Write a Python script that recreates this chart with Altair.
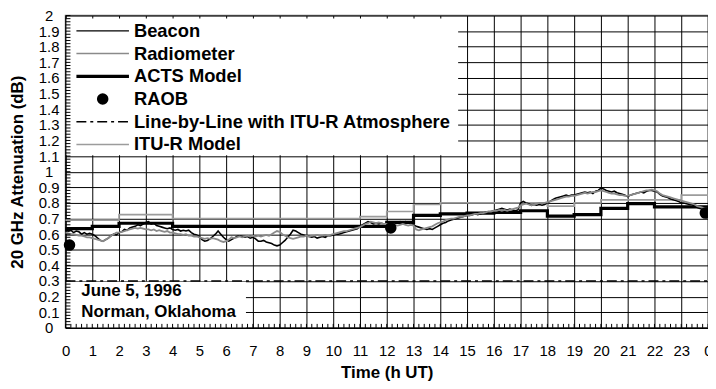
import altair as alt
import pandas as pd

# ---------------- data ----------------
HOURS = list(range(25))
ACTS_MODEL = [0.635, 0.65, 0.67, 0.67, 0.65, 0.65, 0.65, 0.65, 0.65, 0.65, 0.65, 0.65,
              0.675, 0.72, 0.73, 0.735, 0.74, 0.75, 0.715, 0.725, 0.765, 0.795, 0.775, 0.775, 0.775]
ITU_MODEL = [0.69, 0.69, 0.725, 0.725, 0.70, 0.70, 0.70, 0.70, 0.70, 0.70, 0.70, 0.712,
             0.745, 0.79, 0.80, 0.80, 0.80, 0.80, 0.78, 0.80, 0.82, 0.82, 0.82, 0.85, 0.85]

FINE_TIME = [i / 10 for i in range(241)]
BEACON = [
    0.63, 0.62, 0.625, 0.61, 0.62, 0.615, 0.60, 0.61, 0.60, 0.605,
    0.60, 0.59, 0.575, 0.56, 0.555, 0.565, 0.575, 0.59, 0.60, 0.595,
    0.61, 0.615, 0.63, 0.625, 0.64, 0.645, 0.65, 0.66, 0.655, 0.665,
    0.675, 0.68, 0.665, 0.67, 0.655, 0.65, 0.645, 0.64, 0.635, 0.64,
    0.63, 0.625, 0.63, 0.62, 0.625, 0.62, 0.625, 0.61, 0.60, 0.595,
    0.585, 0.565, 0.555, 0.56, 0.57, 0.585, 0.60, 0.62, 0.60, 0.58,
    0.565, 0.555, 0.565, 0.575, 0.585, 0.59, 0.585, 0.58, 0.585, 0.575,
    0.58, 0.57, 0.555, 0.555, 0.56, 0.55, 0.545, 0.54, 0.53, 0.525,
    0.53, 0.545, 0.56, 0.58, 0.60, 0.625, 0.62, 0.61, 0.60, 0.595,
    0.59, 0.585, 0.58, 0.585, 0.575, 0.58, 0.585, 0.58, 0.59, 0.59,
    0.595, 0.60, 0.60, 0.605, 0.61, 0.615, 0.62, 0.625, 0.63, 0.635,
    0.65, 0.66, 0.67, 0.68, 0.675, 0.665, 0.67, 0.665, 0.67, 0.665,
    0.67, 0.665, 0.67, 0.675, 0.67, 0.68, 0.675, 0.68, 0.675, 0.67,
    0.66, 0.65, 0.645, 0.64, 0.635, 0.63, 0.635, 0.63, 0.64, 0.65,
    0.66, 0.67, 0.675, 0.685, 0.69, 0.695, 0.70, 0.705, 0.71, 0.715,
    0.72, 0.72, 0.725, 0.73, 0.725, 0.73, 0.735, 0.74, 0.74, 0.745,
    0.75, 0.755, 0.76, 0.765, 0.76, 0.755, 0.76, 0.755, 0.75, 0.755,
    0.80, 0.81, 0.80, 0.795, 0.785, 0.79, 0.785, 0.79, 0.785, 0.79,
    0.80, 0.81, 0.82, 0.83, 0.835, 0.84, 0.845, 0.85, 0.845, 0.85,
    0.85, 0.855, 0.86, 0.865, 0.87, 0.865, 0.87, 0.86, 0.875, 0.88,
    0.895, 0.89, 0.88, 0.875, 0.87, 0.875, 0.865, 0.86, 0.855, 0.85,
    0.84, 0.85, 0.855, 0.86, 0.865, 0.87, 0.865, 0.875, 0.88, 0.88,
    0.875, 0.87, 0.855, 0.845, 0.84, 0.835, 0.825, 0.82, 0.815, 0.81,
    0.80, 0.80, 0.795, 0.79, 0.79, 0.78, 0.77, 0.765, 0.76, 0.755,
    0.75,
]
RADIOMETER = [
    0.61, 0.605, 0.60, 0.60, 0.595, 0.59, 0.59, 0.585, 0.58, 0.58,
    0.575, 0.57, 0.565, 0.56, 0.555, 0.565, 0.575, 0.59, 0.60, 0.61,
    0.61, 0.615, 0.62, 0.625, 0.63, 0.635, 0.64, 0.635, 0.64, 0.635,
    0.63, 0.63, 0.625, 0.63, 0.62, 0.625, 0.62, 0.615, 0.62, 0.61,
    0.61, 0.605, 0.60, 0.60, 0.595, 0.60, 0.59, 0.59, 0.585, 0.585,
    0.58, 0.575, 0.57, 0.575, 0.57, 0.575, 0.57, 0.565, 0.555, 0.55,
    0.555, 0.565, 0.58, 0.575, 0.58, 0.585, 0.58, 0.585, 0.59, 0.585,
    0.59, 0.585, 0.59, 0.585, 0.59, 0.595, 0.59, 0.60, 0.61, 0.62,
    0.615, 0.60, 0.59, 0.58, 0.575, 0.57, 0.575, 0.58, 0.585, 0.585,
    0.59, 0.585, 0.59, 0.59, 0.595, 0.59, 0.59, 0.595, 0.59, 0.595,
    0.60, 0.605, 0.61, 0.615, 0.62, 0.62, 0.625, 0.63, 0.635, 0.64,
    0.645, 0.655, 0.665, 0.67, 0.68, 0.675, 0.67, 0.675, 0.67, 0.665,
    0.665, 0.66, 0.665, 0.66, 0.655, 0.66, 0.665, 0.66, 0.655, 0.66,
    0.655, 0.63, 0.625, 0.63, 0.635, 0.64, 0.645, 0.65, 0.66, 0.67,
    0.675, 0.68, 0.69, 0.695, 0.70, 0.70, 0.705, 0.71, 0.71, 0.715,
    0.72, 0.72, 0.725, 0.73, 0.73, 0.735, 0.735, 0.74, 0.745, 0.745,
    0.75, 0.75, 0.755, 0.75, 0.755, 0.75, 0.755, 0.76, 0.765, 0.77,
    0.785, 0.79, 0.795, 0.79, 0.785, 0.79, 0.795, 0.80, 0.80, 0.80,
    0.805, 0.81, 0.815, 0.82, 0.825, 0.83, 0.835, 0.84, 0.84, 0.845,
    0.845, 0.85, 0.855, 0.86, 0.865, 0.86, 0.865, 0.87, 0.87, 0.875,
    0.88, 0.875, 0.87, 0.865, 0.86, 0.86, 0.855, 0.85, 0.85, 0.845,
    0.845, 0.85, 0.855, 0.86, 0.865, 0.87, 0.875, 0.88, 0.88, 0.885,
    0.88, 0.875, 0.86, 0.85, 0.845, 0.84, 0.835, 0.83, 0.825, 0.82,
    0.815, 0.81, 0.805, 0.80, 0.795, 0.79, 0.78, 0.775, 0.77, 0.765,
    0.76,
]
RAOB_TIME = [0.15, 12.15, 23.9]
RAOB_VALUE = [0.53, 0.64, 0.735]
LBL_TIME = [0, 24]
LBL_VALUE = [0.3, 0.3]

X_TICKS = list(range(25))
Y_TICKS = [0, 0.1, 0.2, 0.3, 0.4, 0.5, 0.6, 0.7, 0.8, 0.9, 1.0,
           1.1, 1.2, 1.3, 1.4, 1.5, 1.6, 1.7, 1.8, 1.9, 2.0]
MINOR_X = [round(i * 0.2, 1) for i in range(121)]
MINOR_Y = [round(i * 0.02, 2) for i in range(101)]

LEGEND_LABELS = ["Beacon", "Radiometer", "ACTS Model", "RAOB",
                 "Line-by-Line with ITU-R Atmosphere", "ITU-R Model"]
NOTE_LINES = ["June 5, 1996", "Norman, Oklahoma"]
X_TITLE = "Time (h UT)"
Y_TITLE = "20 GHz Attenuation (dB)"

# ---------------- tables ----------------
step_df = pd.DataFrame({"t": HOURS, "acts": ACTS_MODEL, "itu": ITU_MODEL})
fine_df = pd.DataFrame({"t": FINE_TIME, "beacon": BEACON, "radiometer": RADIOMETER})
raob_df = pd.DataFrame({"t": RAOB_TIME, "v": RAOB_VALUE})
lbl_df = pd.DataFrame({"t": LBL_TIME, "v": LBL_VALUE})
minx_df = pd.DataFrame({"t": MINOR_X})
miny_df = pd.DataFrame({"v": MINOR_Y})
ONE = pd.DataFrame({"k": [0]})

FONT = "Liberation Sans"
W, H = 648, 315

xs = alt.Scale(domain=[0, 24], nice=False, zero=False)
ys = alt.Scale(domain=[0, 2], nice=False, zero=False)

x_axis = alt.Axis(values=X_TICKS, grid=True, labelFlush=False,
                  labelExpr="datum.value == 24 ? '0' : datum.label",
                  labelPadding=16, ticks=False,
                  titleX=W / 2, titleY=45, titleBaseline="middle")
y_axis = alt.Axis(values=Y_TICKS, grid=True, labelFlush=False,
                  labelExpr="format(datum.value, '~g')",
                  labelAlign="center", labelPadding=17, ticks=False,
                  titleX=-48, titleY=H / 2, titleBaseline="middle", titleAlign="center")


def X(field):
    return alt.X(field, type="quantitative", scale=xs, axis=x_axis, title=X_TITLE)


def Y(field):
    return alt.Y(field, type="quantitative", scale=ys, axis=y_axis, title=Y_TITLE)


itu = alt.Chart(step_df).mark_line(interpolate="step-after", color="#9c9c9c", strokeWidth=1.7).encode(
    x=X("t"), y=Y("itu"))
acts = alt.Chart(step_df).mark_line(interpolate="step-after", color="black", strokeWidth=3.2).encode(
    x=X("t"), y=Y("acts"))
beacon = alt.Chart(fine_df).mark_line(color="black", strokeWidth=1.6).encode(
    x=X("t"), y=Y("beacon"))
radiometer = alt.Chart(fine_df).mark_line(color="#8a8a8a", strokeWidth=1.8).encode(
    x=X("t"), y=Y("radiometer"))
raob = alt.Chart(raob_df).mark_circle(color="black", opacity=1, size=135).encode(
    x=X("t"), y=Y("v"))
lbl = alt.Chart(lbl_df).mark_line(color="black", strokeWidth=1.6, strokeDash=[10, 4, 3, 4]).encode(
    x=X("t"), y=Y("v"))

legend_box = alt.Chart(ONE).mark_rect(color="white").encode(
    x=alt.value(1), x2=alt.value(396), y=alt.value(3), y2=alt.value(141))
note_box = alt.Chart(ONE).mark_rect(color="white").encode(
    x=alt.value(1), x2=alt.value(182), y=alt.value(268.5), y2=alt.value(314.5))

minor_x = alt.Chart(minx_df).mark_rule(color="black", strokeWidth=1).encode(
    x=X("t"), y=alt.value(H - 4), y2=alt.value(H))
minor_y = alt.Chart(miny_df).mark_rule(color="black", strokeWidth=1).encode(
    y=Y("v"), x=alt.value(0), x2=alt.value(5))

ROW0, ROWSTEP = 15.5, 22.9
SX0, SX1, TX = 11, 64, 69


def leg_rule(i, color, width, dash=None):
    kw = dict(color=color, strokeWidth=width)
    if dash:
        kw["strokeDash"] = dash
    return alt.Chart(ONE).mark_rule(**kw).encode(
        x=alt.value(SX0), x2=alt.value(SX1), y=alt.value(ROW0 + i * ROWSTEP))


def leg_text(i):
    return alt.Chart(ONE).mark_text(text=LEGEND_LABELS[i], align="left", baseline="middle",
                                     font=FONT, fontSize=18.5, fontWeight="bold", color="black").encode(
        x=alt.value(TX), y=alt.value(ROW0 + i * ROWSTEP))


legend_items = [
    leg_rule(0, "black", 1.3),
    leg_rule(1, "#8a8a8a", 1.5),
    leg_rule(2, "black", 3.2),
    alt.Chart(ONE).mark_circle(color="black", opacity=1, size=135).encode(
        x=alt.value((SX0 + SX1) / 2), y=alt.value(ROW0 + 3 * ROWSTEP)),
    leg_rule(4, "black", 1.6, [10, 4, 3, 4]),
    leg_rule(5, "#9c9c9c", 1.6),
] + [leg_text(i) for i in range(6)]

note_texts = [
    alt.Chart(ONE).mark_text(text=NOTE_LINES[j], align="left", baseline="middle", font=FONT,
                             fontSize=17, fontWeight="bold", color="black").encode(
        x=alt.value(16), y=alt.value(278 + j * 21))
    for j in range(2)
]

chart = alt.layer(
    itu, acts, beacon, radiometer, raob, legend_box, note_box, lbl, minor_x, minor_y,
    *legend_items, *note_texts
).properties(
    width=W, height=H,
    padding={"left": 58, "top": 6, "right": 0, "bottom": 52},
    autosize=alt.AutoSizeParams(type="none"),
).configure_axis(
    domainColor="black", domainWidth=1.2, gridColor="black", gridWidth=1, gridOpacity=1,
    labelFont=FONT, labelFontSize=15, labelColor="black",
    titleFont=FONT, titleFontSize=17, titleFontWeight="bold", titleColor="black",
).configure_view(stroke="#7a7a7a", strokeWidth=1.5)

chart.save("out.html", embed_options={"renderer": "svg", "actions": False})
